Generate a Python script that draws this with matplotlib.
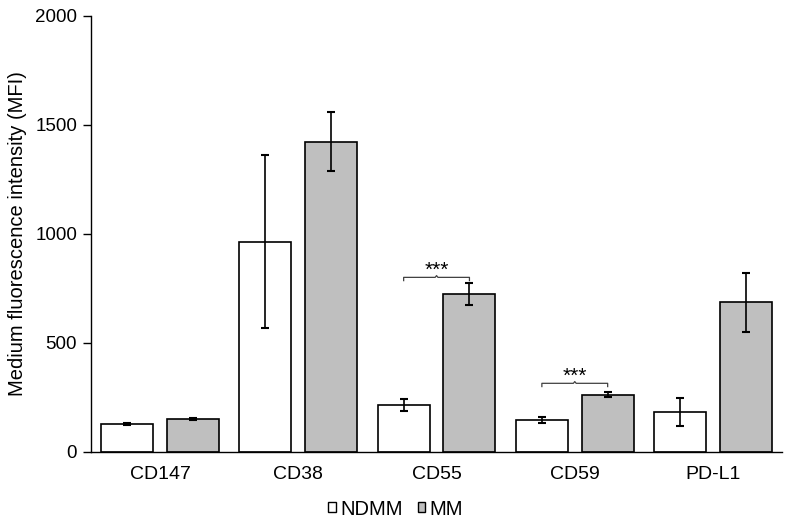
import numpy as np
import matplotlib
matplotlib.use("Agg")
from matplotlib import pyplot as plt
from matplotlib.patches import Patch

plt.rcParams['font.family'] = ['Liberation Sans', 'DejaVu Sans']

categories = ['CD147', 'CD38', 'CD55', 'CD59', 'PD-L1']
ndmm = [127, 965, 216, 148, 183]
ndmm_err = [5, 395, 29, 14, 66]
mm = [152, 1424, 724, 262, 686]
mm_err = [5, 135, 50, 11, 137]

# significance marks: (category index, text, bracket height)
sig = [(2, '***', 801), (3, '***', 315)]

fig = plt.figure(figsize=(7.88, 5.2), dpi=100)
ax = fig.add_axes([0.1155, 0.1308, 0.877, 0.8385])

x = np.arange(len(categories))
w = 0.376
off = w / 2 + 0.05

ax.bar(x - off, ndmm, w, color='white', edgecolor='black', linewidth=1.2, zorder=2)
ax.bar(x + off, mm, w, color='#bfbfbf', edgecolor='black', linewidth=1.2, zorder=2)
ax.errorbar(x - off, ndmm, yerr=ndmm_err, fmt='none', ecolor='black',
            elinewidth=1.2, capsize=3, capthick=1.5, zorder=3)
ax.errorbar(x + off, mm, yerr=mm_err, fmt='none', ecolor='black',
            elinewidth=1.2, capsize=3, capthick=1.5, zorder=3)

for i, txt, h in sig:
    x0, x1 = i - off, i + off
    xm = (x0 + x1) / 2
    ax.plot([x0, x0, xm - 0.01, xm, xm + 0.01, x1, x1],
            [h - 15, h, h, h + 8, h, h, h - 15],
            color='#404040', linewidth=0.9, zorder=3)
    ax.text(xm, h - 12, txt, ha='center', va='bottom', fontsize=15)

ax.set_xlim(-0.5, len(categories) - 0.5)
ax.set_ylim(0, 2000)
ax.set_yticks([0, 500, 1000, 1500, 2000])
ax.set_xticks(x)
ax.set_xticklabels(categories, fontsize=14)
ax.tick_params(axis='y', labelsize=13.5, length=6, width=1, pad=4)
ax.tick_params(axis='x', length=0, pad=10)
ax.set_ylabel('Medium fluorescence intensity (MFI)', fontsize=14.5, labelpad=6)

ax.spines['top'].set_visible(False)
ax.spines['right'].set_visible(False)
ax.spines['left'].set_linewidth(1)
ax.spines['bottom'].set_linewidth(1)

handles = [Patch(facecolor='white', edgecolor='black', label='NDMM'),
           Patch(facecolor='#bfbfbf', edgecolor='black', label='MM')]
fig.legend(handles=handles, loc='center', bbox_to_anchor=(0.502, 0.021),
           ncol=2, frameon=False, fontsize=14.5, handlelength=0.38, handleheight=0.38,
           handletextpad=0.2, columnspacing=0.75, borderpad=0)

fig.savefig('out.png', dpi=100)
